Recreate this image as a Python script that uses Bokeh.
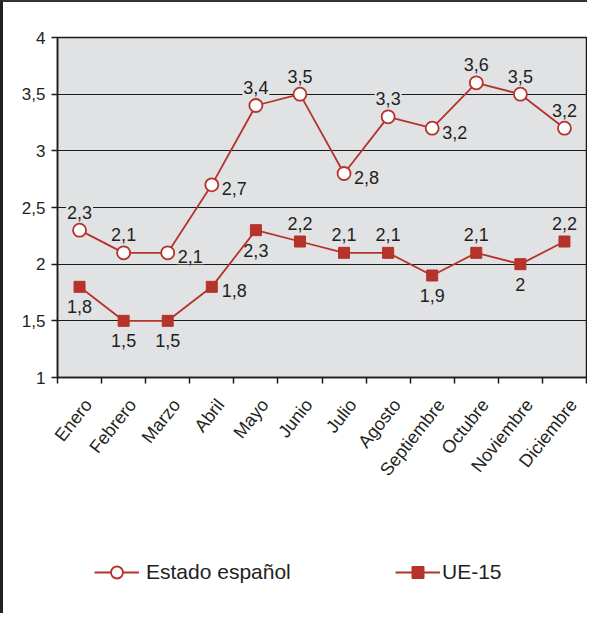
from bokeh.plotting import figure
from bokeh.layouts import column
from bokeh.models import ColumnDataSource, FixedTicker, Legend, LegendItem, Range1d
from bokeh.embed import file_html
from bokeh.resources import INLINE
from bokeh.core.properties import value

# ---- data ----
months = ["Enero", "Febrero", "Marzo", "Abril", "Mayo", "Junio", "Julio",
          "Agosto", "Septiembre", "Octubre", "Noviembre", "Diciembre"]
estado = [2.3, 2.1, 2.1, 2.7, 3.4, 3.5, 2.8, 3.3, 3.2, 3.6, 3.5, 3.2]
ue15 = [1.8, 1.5, 1.5, 1.8, 2.3, 2.2, 2.1, 2.1, 1.9, 2.1, 2.0, 2.2]
estado_label_pos = ["above", "above", "right", "right", "above", "above",
                    "right", "above", "right", "above", "above", "above"]
ue15_label_pos = ["below", "below", "below", "right", "below", "above",
                  "above", "above", "below", "above", "below", "above"]
y_ticks = [1, 1.5, 2, 2.5, 3, 3.5, 4]
series_names = ["Estado español", "UE-15"]

RED = "#b5332b"
BG = "#e1e2e4"
TXT = "#231f20"
FONT = "Liberation Sans"


def fmt(v):
    return ("%g" % v).replace(".", ",")


x = list(range(len(months)))

p = figure(output_backend="svg", toolbar_location=None,
           frame_width=529, frame_height=340,
           min_border_left=54, min_border_right=1,
           min_border_top=35, min_border_bottom=162,
           x_range=Range1d(-0.5, len(months) - 0.5),
           y_range=Range1d(y_ticks[0], y_ticks[-1]))
p.background_fill_color = BG
p.border_fill_color = "white"
p.outline_line_color = "#1a1a1a"
p.outline_line_width = 1.5

# x axis: boundary ticks as minor ticks, labels on (slightly shifted) major ticks
lab_shift = 0.2
lab_ticks = [i + lab_shift for i in x]
p.xaxis.ticker = FixedTicker(ticks=lab_ticks,
                             minor_ticks=[i - 0.5 for i in range(len(months) + 1)])
p.xaxis.major_label_overrides = {t: m for t, m in zip(lab_ticks, months)}
p.xaxis.major_tick_out = 0
p.xaxis.major_tick_in = 0
p.xaxis.minor_tick_out = 6
p.xaxis.minor_tick_in = 0
p.xaxis.minor_tick_line_color = "#1a1a1a"
p.xaxis.minor_tick_line_width = 1.5
p.xaxis.axis_line_color = "#1a1a1a"
p.xaxis.axis_line_width = 1.5
p.xaxis.major_label_orientation = 0.9
p.xaxis.major_label_standoff = 18
p.xaxis.major_label_text_font = FONT
p.xaxis.major_label_text_font_size = "18px"
p.xaxis.major_label_text_color = TXT

# y axis
p.yaxis.ticker = FixedTicker(ticks=y_ticks, minor_ticks=[])
p.yaxis.major_label_overrides = {v: fmt(v) for v in y_ticks}
p.yaxis.major_tick_out = 6
p.yaxis.major_tick_in = 0
p.yaxis.major_tick_line_color = "#1a1a1a"
p.yaxis.major_tick_line_width = 1.5
p.yaxis.axis_line_color = "#1a1a1a"
p.yaxis.axis_line_width = 1.5
p.yaxis.major_label_standoff = 6
p.yaxis.major_label_text_font = FONT
p.yaxis.major_label_text_font_size = "17px"
p.yaxis.major_label_text_color = TXT

p.xgrid.visible = False
p.ygrid.ticker = FixedTicker(ticks=y_ticks)
p.ygrid.grid_line_color = "#1a1a1a"
p.ygrid.grid_line_width = 1.2

# ---- data labels (drawn first so lines sit on top) ----
OFFS = {"above": (0, -18, "center"), "below": (0, 20, "center"), "right": (9, 4, "left")}


def add_labels(vals, poss):
    for pos, (dx, dy, al) in OFFS.items():
        idx = [i for i in x if poss[i] == pos]
        if not idx:
            continue
        src = ColumnDataSource(dict(x=[x[i] for i in idx], y=[vals[i] for i in idx],
                                    t=[fmt(vals[i]) for i in idx]))
        p.text(x="x", y="y", text="t", source=src, x_offset=dx, y_offset=dy,
               text_align=al, text_baseline="middle",
               text_font=value(FONT), text_font_size="18px", text_color=TXT,
               background_fill_color=BG, padding=1)


add_labels(estado, estado_label_pos)
add_labels(ue15, ue15_label_pos)

# ---- series ----
p.line(x, estado, line_color=RED, line_width=1.8)
p.scatter(x, estado, marker="circle", size=13, fill_color="white",
          line_color=RED, line_width=1.8)
p.line(x, ue15, line_color=RED, line_width=1.8)
p.scatter(x, ue15, marker="square", size=11, fill_color=RED,
          line_color=RED, line_width=1)

# ---- legend strip (separate figure below the chart) ----
lp = figure(output_backend="svg", toolbar_location=None,
            width=p.frame_width + 55, height=74,
            min_border=0, x_axis_type=None, y_axis_type=None,
            x_range=Range1d(0, 1), y_range=Range1d(0, 1))
lp.outline_line_color = None
lp.background_fill_color = "white"
lp.border_fill_color = "white"
lp.xgrid.visible = False
lp.ygrid.visible = False
# legend-only renderers: their data lie outside the visible range of this strip
off = ([-5, -4], [-5, -4])
r_l1 = lp.line(*off, line_color=RED, line_width=1.8)
r_s1 = lp.scatter(*off, marker="circle", size=12, fill_color="white", line_color=RED, line_width=1.8)
r_l2 = lp.line(*off, line_color=RED, line_width=1.8)
r_s2 = lp.scatter(*off, marker="square", size=11, fill_color=RED, line_color=RED, line_width=1)

for (label, rends, lx, standoff) in [(series_names[0], [r_l1, r_s1], 37, 7),
                                      (series_names[1], [r_l2, r_s2], 338, 2)]:
    lg = Legend(items=[LegendItem(label=label, renderers=rends, index=0)],
                location=(lx, 26), orientation="horizontal",
                glyph_width=45, glyph_height=30, label_height=30,
                label_standoff=standoff, padding=0, margin=0, spacing=0,
                background_fill_alpha=0, border_line_alpha=0,
                label_text_font=FONT,
                label_text_font_size="21px", label_text_color=TXT)
    lp.add_layout(lg, "center")

layout = column(p, lp, spacing=0,
                styles={"border-left": "3px solid #222222", "border-top": "2px solid #333333"})

open("out.html", "w").write(file_html(layout, INLINE))
